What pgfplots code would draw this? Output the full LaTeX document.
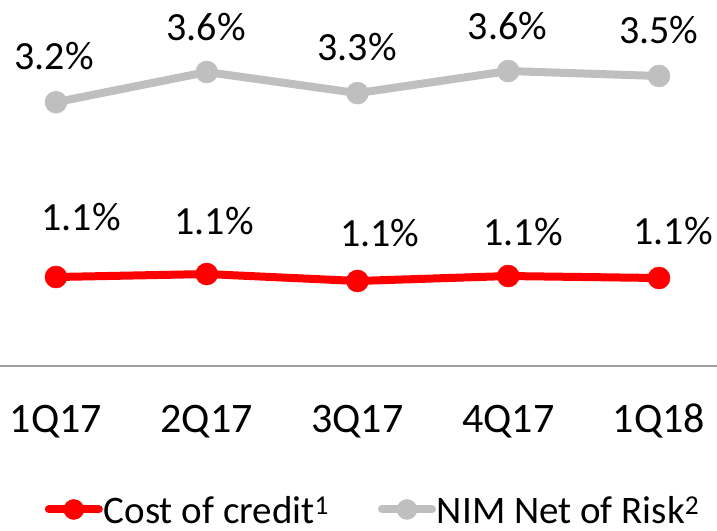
\documentclass[border=0pt]{standalone}
\usepackage{pgfplots}
\pgfplotsset{compat=1.18}
\usepackage{pgfplotstable}
\usepackage{fontspec}
\setmainfont{Carlito}
\definecolor{cred}{HTML}{FF0000}
\definecolor{cgray}{HTML}{BFBFBF}
\definecolor{caxis}{HTML}{A0A0A0}

\pgfplotstableread{
x y
0 1.076
1 1.112
2 1.028
3 1.088
4 1.064
}\costdata

\pgfplotstableread{
x y
0 3.190
1 3.555
2 3.300
3 3.567
4 3.507
}\nimdata

\pgfplotstableread{
x y label
0.166 1.80 1.1
1.048 1.75 1.1
2.149 1.61 1.1
3.098 1.62 1.1
4.093 1.63 1.1
}\costlab

\pgfplotstableread{
x y label
-0.013 3.75 3.2
0.995 4.10 3.6
1.997 3.86 3.3
2.995 4.11 3.6
4.000 4.06 3.5
}\nimlab

\begin{document}
\begin{tikzpicture}
\begin{axis}[
  name=ax,
  scale only axis,
  width=717bp, height=366bp,
  xmin=-0.3715, xmax=4.385,
  ymin=0, ymax=4.426,
  axis x line=bottom, axis y line=none,
  x axis line style={-, draw=caxis, line width=1.5bp},
  xtick={0,1,2,3,4},
  xticklabels={1Q17,2Q17,3Q17,4Q17,1Q18},
  major tick length=0pt,
  xticklabel style={anchor=base, yshift=-66bp, font=\fontsize{42bp}{48bp}\selectfont},
  clip=false,
  legend columns=2,
  legend cell align=left,
  legend style={at={(0.5195,-0.392)}, anchor=center, draw=none, fill=none,
    font=\fontsize{39bp}{46bp}\selectfont,
    /tikz/every even column/.append style={column sep=48bp},
    nodes={inner sep=1bp, text depth=0pt}},
  legend image code/.code={\draw[mark repeat=2, mark phase=2, #1, mark size=10bp] plot coordinates {(0bp,0bp) (25bp,0bp) (50bp,0bp)};},
]
\addplot[cred, line width=8bp, line cap=round, mark=*, mark size=11bp, mark options={line width=0.5bp, fill=cred, draw=cred}] table[x=x,y=y] {\costdata};
\addlegendentry{Cost of credit\textsuperscript{1}}
\addplot[cgray, line width=8bp, line cap=round, mark=*, mark size=11bp, mark options={line width=0.5bp, fill=cgray, draw=cgray}] table[x=x,y=y] {\nimdata};
\addlegendentry{NIM Net of Risk\textsuperscript{2}}

\addplot[forget plot, draw=none, mark=none, nodes near coords={\pgfplotspointmeta\%}, point meta=explicit symbolic,
  nodes near coords style={anchor=center, inner sep=0pt, text=black, font=\fontsize{40bp}{46bp}\selectfont}]
  table[x=x,y=y,meta=label] {\costlab};
\addplot[forget plot, draw=none, mark=none, nodes near coords={\pgfplotspointmeta\%}, point meta=explicit symbolic,
  nodes near coords style={anchor=center, inner sep=0pt, text=black, font=\fontsize{40bp}{46bp}\selectfont}]
  table[x=x,y=y,meta=label] {\nimlab};
\end{axis}
\pgfresetboundingbox
\path (ax.south west) ++(0,-165bp) rectangle (ax.north east);
\end{tikzpicture}
\end{document}
